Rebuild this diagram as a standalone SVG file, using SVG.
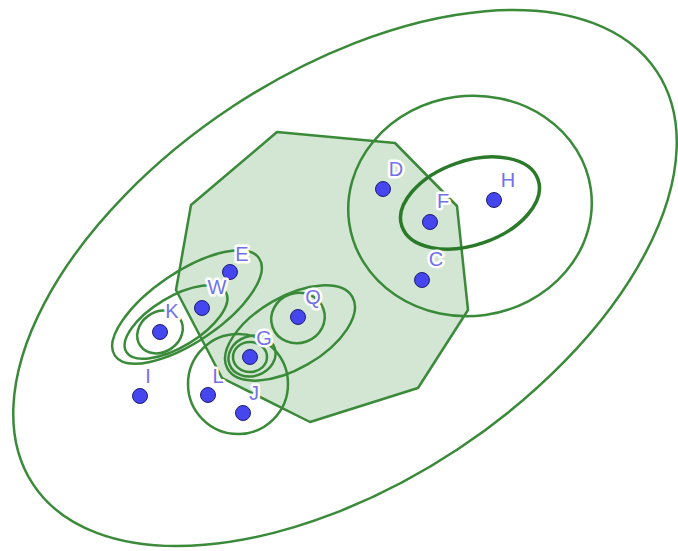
<svg xmlns="http://www.w3.org/2000/svg" width="678" height="551" viewBox="0 0 678 551">
<style>
.set{fill:none;stroke:#3a8a3a;stroke-width:2.5}
.thick{stroke:#2a7a2a;stroke-width:3.5}
.poly{fill:#d3e6d3;stroke:#3a8a3a;stroke-width:2.5;stroke-linejoin:round}
.pt{fill:#4646ee;stroke:#1e1e70;stroke-width:1}
.lbl{font-family:"Liberation Sans",Arial,sans-serif;font-size:20px;fill:#7272e8;text-anchor:middle;stroke:#ffffff;stroke-width:5;paint-order:stroke;stroke-linejoin:round}
</style>
<rect width="678" height="551" fill="#ffffff"/>
<g id="polygon">
<polygon class="poly" points="277,132 395,143 450,199 457,206 468,310 418,388 310,422 222,378 176,290 191,205"/>
</g>
<g id="connectors">
<ellipse class="set" cx="345" cy="278" rx="374" ry="205" transform="rotate(-33.5 345 278)"/>
<ellipse class="set" cx="470" cy="206" rx="122" ry="110" transform="rotate(-8 470 206)"/>
<ellipse class="set thick" cx="470" cy="203" rx="72" ry="42" transform="rotate(-19 470 203)"/>
<ellipse class="set" cx="187" cy="307" rx="87" ry="35" transform="rotate(-34 187 307)"/>
<ellipse class="set" cx="176" cy="322" rx="58" ry="25" transform="rotate(-31 176 322)"/>
<ellipse class="set" cx="160" cy="332" rx="24" ry="20" transform="rotate(-35 160 332)"/>
<ellipse class="set" cx="290" cy="333" rx="72" ry="36" transform="rotate(-30 290 333)"/>
<ellipse class="set" cx="298" cy="318" rx="27" ry="25" transform="rotate(-20 298 318)"/>
<ellipse class="set" cx="250" cy="357" rx="17" ry="15"/>
<ellipse class="set" cx="252" cy="356" rx="24" ry="20" transform="rotate(-20 252 356)"/>
<circle class="set" cx="238" cy="384" r="50"/>
</g>
<g id="D"><circle class="pt" cx="383" cy="189" r="7.5"/><text class="lbl" x="396" y="176">D</text></g>
<g id="F"><circle class="pt" cx="430" cy="222" r="7.5"/><text class="lbl" x="443" y="208">F</text></g>
<g id="H"><circle class="pt" cx="494" cy="200" r="7.5"/><text class="lbl" x="508" y="187">H</text></g>
<g id="C"><circle class="pt" cx="422" cy="280" r="7.5"/><text class="lbl" x="436" y="266">C</text></g>
<g id="E"><circle class="pt" cx="230" cy="272" r="7.5"/><text class="lbl" x="242" y="261">E</text></g>
<g id="W"><circle class="pt" cx="202" cy="308" r="7.5"/><text class="lbl" x="217" y="294">W</text></g>
<g id="K"><circle class="pt" cx="160" cy="332" r="7.5"/><text class="lbl" x="172" y="318">K</text></g>
<g id="Q"><circle class="pt" cx="298" cy="317" r="7.5"/><text class="lbl" x="313" y="304">Q</text></g>
<g id="G"><circle class="pt" cx="250" cy="357" r="7.5"/><text class="lbl" x="264" y="345">G</text></g>
<g id="I"><circle class="pt" cx="140" cy="396" r="7.5"/><text class="lbl" x="148" y="383">I</text></g>
<g id="L"><circle class="pt" cx="208" cy="395" r="7.5"/><text class="lbl" x="218" y="383">L</text></g>
<g id="J"><circle class="pt" cx="243" cy="413" r="7.5"/><text class="lbl" x="254" y="400">J</text></g>
</svg>
